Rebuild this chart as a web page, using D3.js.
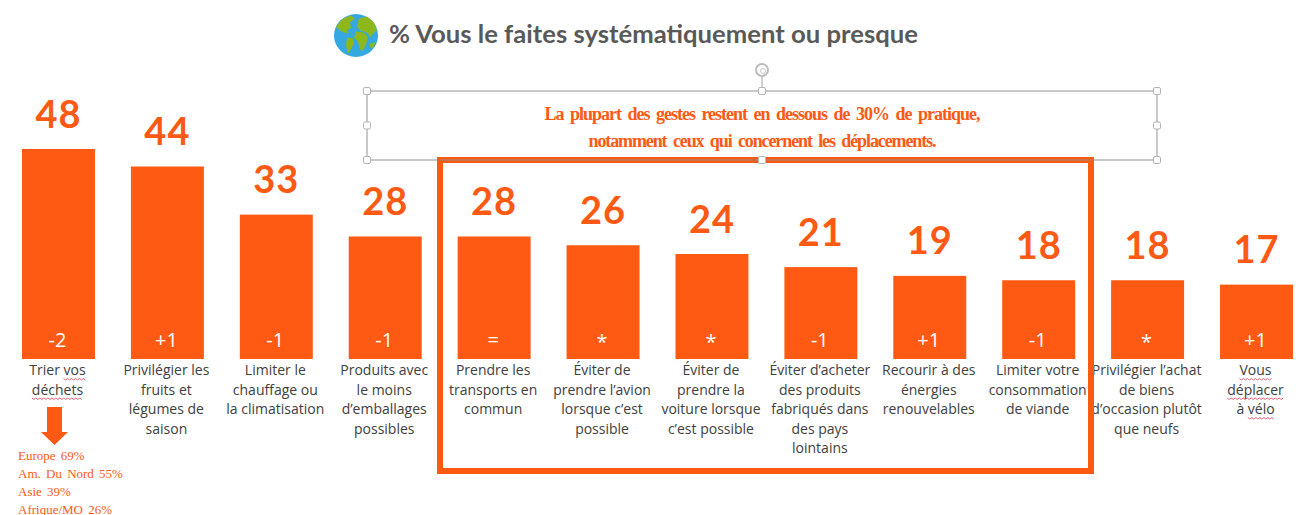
<!DOCTYPE html>
<html><head><meta charset="utf-8">
<script src="https://cdn.jsdelivr.net/npm/d3@7"></script>
<style>html,body{margin:0;padding:0;background:#fff;overflow:hidden}svg{display:block}</style>
</head><body><svg id="c" width="1298" height="515"></svg>
<script>
const categories = [
 "Trier vos|déchets","Privilégier les|fruits et|légumes de|saison","Limiter le|chauffage ou|la climatisation",
 "Produits avec|le moins|d’emballages|possibles","Prendre les|transports en|commun","Éviter de|prendre l’avion|lorsque c’est|possible",
 "Éviter de|prendre la|voiture lorsque|c’est possible","Éviter d’acheter|des produits|fabriqués dans|des pays|lointains",
 "Recourir à des|énergies|renouvelables","Limiter votre|consommation|de viande","Privilégier l’achat|de biens|d’occasion plutôt|que neufs","Vous|déplacer|à vélo"];
const values = [48,44,33,28,28,26,24,21,19,18,18,17];
const deltas = ["-2","+1","-1","-1","=","*","*","-1","+1","-1","*","+1"];
const regions = ["Europe 69%","Am. Du Nord 55%","Asie 39%","Afrique/MO 26%"];
const spellcheck = [[0,0,"vos"],[0,1,"déchets"],[11,0,"Vous"],[11,1,"déplacer"],[11,2,"vélo"]];
const titleText = "% Vous le faites systématiquement ou presque";
const noteLines = ["La plupart des gestes restent en dessous de 30% de pratique,","notamment ceux qui concernent les déplacements."];

const ORANGE="#ff5a14", GREY="#a6a6a6";
const svg=d3.select("#c");
const x=d3.scaleBand().domain(d3.range(categories.length)).range([22,1293]).paddingInner(0.33).paddingOuter(0);
const y=d3.scaleLinear().domain([0,48]).range([359,149]);

// Title + globe
const g=svg.append("g").attr("transform","translate(356,35.5)");
g.append("ellipse").attr("rx",22).attr("ry",21.5).attr("fill","#35a8e0");
const land=[
 "M-20,-9 L-13,-17 L-5,-20 L-1,-17 L-6,-13 L-5,-8 L-9,-5 L-7,-2 L-12,-3 L-16,-5 Z",
 "M-9,2 L-3,3 L-2,8 L-6,15 L-8,18 L-10,10 Z",
 "M3,-17 L11,-19 L18,-13 L21,-5 L17,-2 L14,2 L12,-2 L8,-4 L4,-5 L1,-9 Z",
 "M0,-4 L8,-3 L12,2 L10,9 L7,15 L4,14 L2,6 L-2,2 Z",
 "M14,8 L19,7 L18,12 L14,12 Z"];
g.selectAll("path.land").data(land).join("path").attr("class","land").attr("d",d=>d).attr("fill","#8db71c");
svg.append("text").attr("x",389).attr("y",43).attr("font-family","Lato").attr("font-weight",700)
 .attr("font-size",25).attr("fill","#595959").attr("textLength",529).attr("lengthAdjust","spacingAndGlyphs").text(titleText);

// selection frame
const fx0=367,fx1=1157,fy0=91,fy1=160,fmx=(fx0+fx1)/2,fmy=125.5;
svg.append("rect").attr("x",fx0).attr("y",fy0).attr("width",fx1-fx0).attr("height",fy1-fy0).attr("fill","none").attr("stroke",GREY).attr("stroke-width",1.2);
svg.append("line").attr("x1",fmx).attr("x2",fmx).attr("y1",76).attr("y2",fy0).attr("stroke",GREY);
svg.append("circle").attr("cx",fmx).attr("cy",70).attr("r",6).attr("fill","#fff").attr("stroke","#bdbdbd").attr("stroke-width",2);
svg.append("circle").attr("cx",fmx+1).attr("cy",71).attr("r",2.5).attr("fill","#fff").attr("stroke","#c8c8c8");

// notes
noteLines.forEach((t,i)=>svg.append("text").attr("x",762.5).attr("y",[120,147][i]).attr("text-anchor","middle")
 .attr("font-family","Liberation Sans Narrow").attr("font-weight",700).attr("font-size",18).attr("fill",ORANGE)
 .attr("word-spacing",3).attr("textLength",[436,348][i]).attr("lengthAdjust","spacing").text(t));

// bars
svg.selectAll("rect.bar").data(values).join("rect").attr("class","bar")
 .attr("x",(d,i)=>x(i)).attr("width",x.bandwidth()).attr("y",d=>y(d)).attr("height",d=>y(0)-y(d)).attr("fill",ORANGE);
svg.selectAll("text.val").data(values).join("text").attr("class","val")
 .attr("x",(d,i)=>x(i)+x.bandwidth()/2).attr("y",d=>y(d)-21.5).attr("text-anchor","middle")
 .attr("font-family","Lato").attr("font-weight",700).attr("font-size",38).attr("letter-spacing",1).attr("fill",ORANGE).text(d=>d);
svg.selectAll("text.delta").data(deltas).join("text").attr("class","delta")
 .attr("x",(d,i)=>x(i)+x.bandwidth()/2-1).attr("y",d=>d==="*"?349:347).attr("text-anchor","middle")
 .attr("font-family","Open Sans").attr("font-size",20).attr("fill","#fff").text(d=>d);

// category labels
const LH=19.5, FS=14;
const lab=svg.selectAll("g.lab").data(categories).join("g").attr("class","lab");
lab.each(function(c,i){
  d3.select(this).selectAll("text").data(c.split("|")).join("text")
   .attr("x",x(i)+x.bandwidth()/2-1).attr("y",(d,j)=>375+j*LH).attr("text-anchor","middle")
   .attr("font-family","Open Sans").attr("font-size",FS).attr("fill","#404040").text(d=>d);
});
// spell-check squiggles
spellcheck.forEach(([ci,li,w])=>{
  const t=d3.select(lab.nodes()[ci]).selectAll("text").nodes()[li];
  const s=t.textContent.indexOf(w), e=t.getExtentOfChar(s), n=t.getSubStringLength(s,w.length);
  const by=375+li*LH+3.5;
  const pts=d3.range(0,Math.floor(n/2)+1).map(k=>[e.x+k*2,by+(k%2?1.5:0)]);
  svg.append("path").attr("d",d3.line()(pts)).attr("fill","none").attr("stroke","#e8506a").attr("stroke-width",0.9);
});

// highlight box
svg.append("rect").attr("x",440).attr("y",160).attr("width",651).attr("height",311).attr("fill","none").attr("stroke",ORANGE).attr("stroke-width",6);
svg.append("line").attr("x1",440).attr("x2",1091).attr("y1",160).attr("y2",160).attr("stroke","#8a8a8a").attr("stroke-width",1);

// handles
[[fx0,fy0],[fmx,fy0],[fx1,fy0],[fx0,fmy],[fx1,fmy],[fx0,fy1],[fmx,fy1],[fx1,fy1]].forEach(p=>
 svg.append("rect").attr("x",p[0]-3.5).attr("y",p[1]-3.5).attr("width",7).attr("height",7).attr("rx",1.5).attr("fill","#fff").attr("stroke","#b5b5b5"));

// arrow + regions
svg.append("path").attr("d","M47,407H62V432H68L54.5,445L41,432H47Z").attr("fill",ORANGE);
svg.selectAll("text.reg").data(regions).join("text").attr("class","reg")
 .attr("x",18).attr("y",(d,i)=>[460,478,496,514][i]).attr("font-family","Liberation Sans Narrow").attr("font-size",13).attr("fill",ORANGE)
 .attr("word-spacing",2).text(d=>d);
</script></body></html>
